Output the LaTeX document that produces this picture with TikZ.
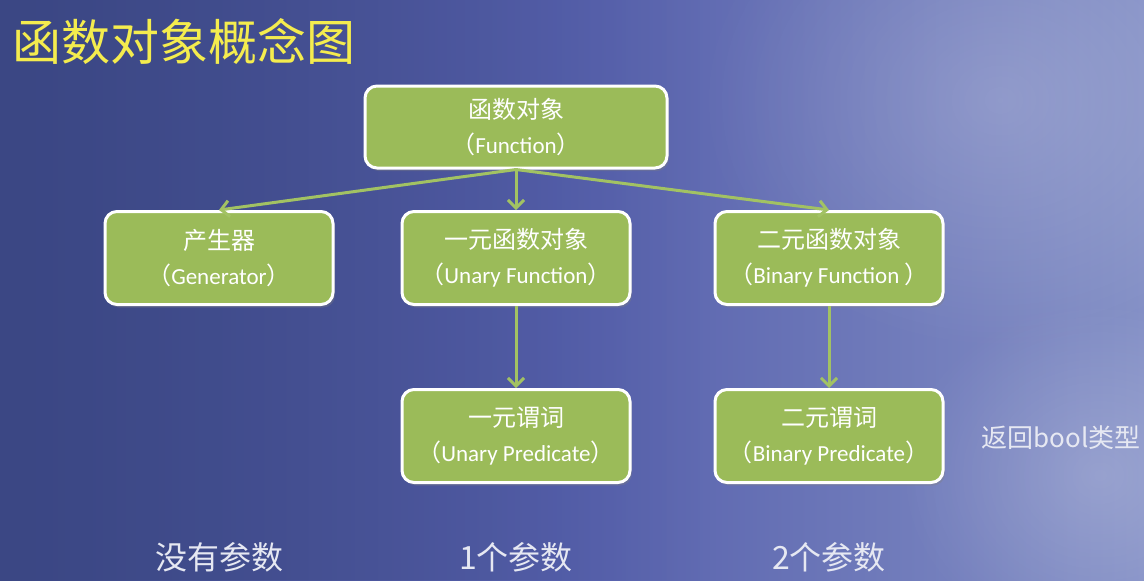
\documentclass[tikz,border=0pt]{standalone}
\usepackage{fontspec}
\setmainfont{Carlito}
\newfontfamily\cjk{Noto Sans CJK SC}
\usetikzlibrary{arrows.meta,shadows,fadings}
\definecolor{bgL}{HTML}{3B4784}
\definecolor{bgM}{HTML}{5660AC}
\definecolor{bgR}{HTML}{8490C6}
\definecolor{boxgreen}{HTML}{9BBB59}
\definecolor{arrowgreen}{HTML}{A2C263}
\definecolor{titleyellow}{HTML}{F4EC4E}
\definecolor{lighttext}{HTML}{E6E8F2}
\tikzfading[name=fadeLeftDown, left color=transparent!40, right color=transparent!100]
\tikzfading[name=fadeGlow, inner color=transparent!82, outer color=transparent!100]
\tikzset{
  box/.style={draw=white, line width=1.5pt, fill=boxgreen, rounded corners=6pt,
    text=white, align=center, inner sep=2pt,
    minimum width=114pt, minimum height=46.5pt,
    font=\fontsize{11.5}{17.5}\selectfont,
    drop shadow={opacity=0.35, shadow xshift=1pt, shadow yshift=-1.5pt}},
  conn/.style={draw=arrowgreen, line width=1.5pt,
    -{Straight Barb[length=4pt,width=8pt,line width=1.5pt]}},
  bottomlabel/.style={text=lighttext, font=\cjk\fontsize{16}{19}\selectfont},
}
\newcommand{\zh}[1]{{\cjk\fontsize{12}{17.5}\selectfont #1}}
\begin{document}
\begin{tikzpicture}[x=0.5pt,y=-0.5pt]
\useasboundingbox (0,0) rectangle (1144,580);
% background
\shade[left color=bgL, right color=bgR, middle color=bgM] (0,0) rectangle (1144,580);
\fill[bgL, path fading=fadeLeftDown] (0,0) rectangle (700,580);
\fill[white, path fading=fadeGlow] (700,-150) rectangle (1300,350);
\fill[white, path fading=fadeGlow] (900,300) rectangle (1300,650);
% title
\node[text=titleyellow, font=\cjk\fontsize{24.5}{28}\selectfont, anchor=center] (title) at (184,42) {函数对象概念图};
% nodes
\node[box, minimum width=151pt, minimum height=41pt] (fn) at (516,127)
  {\zh{函数对象}\\\zh{（}Function\zh{）}};
\node[box] (gen) at (219,258)
  {\zh{产生器}\\\zh{（}Generator\zh{）}};
\node[box] (unf) at (516,258)
  {\zh{一元函数对象}\\\zh{（}Unary Function\zh{）}};
\node[box] (bif) at (829,258)
  {\zh{二元函数对象}\\\zh{（}Binary Function \zh{）}};
\node[box] (unp) at (516,436)
  {\zh{一元谓词}\\\zh{（}Unary Predicate\zh{）}};
\node[box] (bip) at (829,436)
  {\zh{二元谓词}\\\zh{（}Binary Predicate\zh{）}};
% connectors
\draw[conn] (fn.south) -- (gen.north);
\draw[conn] (fn.south) -- (unf.north);
\draw[conn] (fn.south) -- (bif.north);
\draw[conn] (unf.south) -- (unp.north);
\draw[conn] (bif.south) -- (bip.north);
% side label
\node[text=lighttext, font=\cjk\fontsize{13}{15}\selectfont] (ret) at (1061,438) {返回bool类型};
% bottom labels
\node[bottomlabel] (p0) at (219,557) {没有参数};
\node[bottomlabel] (p1) at (516,557) {1个参数};
\node[bottomlabel] (p2) at (829,557) {2个参数};
\end{tikzpicture}
\end{document}
